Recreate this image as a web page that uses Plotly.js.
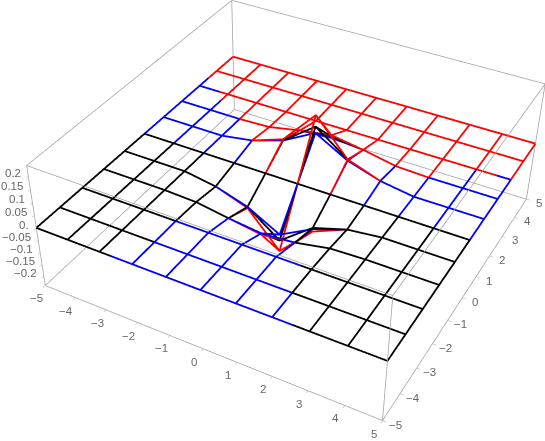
<!DOCTYPE html>
<html><head><meta charset="utf-8">
<script src="https://cdn.plot.ly/plotly-3.0.1.min.js"></script>
<style>html,body{margin:0;padding:0;background:#fff;overflow:hidden;width:545px;height:441px}
#myDiv{position:absolute;left:-340px;top:-275px;width:1226px;height:992px}</style>
</head><body><div id="myDiv"></div>
<script>
const gridVals = [-5,-4,-3,-2,-1,0,1,2,3,4,5];
const axisTickText = ['\u22125','\u22124','\u22123','\u22122','\u22121','0','1','2','3','4','5'];
const zTickVals = [-0.2,-0.15,-0.1,-0.05,0,0.05,0.1,0.15,0.2];
const zTickText = ['\u22120.2','\u22120.15','\u22120.1','\u22120.05','0.','0.05','0.1','0.15','0.2'];

// z per node, rows y=-5..5, columns x=-5..5
const zBlack = [
 [0,0,0,0,0,0,0,0,0,0,0],[0,0,0,0,0,0,0,0,0,0,0],[0,0,0,0,0,0,0,0,0,0,0],
 [0,0,0,-0.005,-0.025,-0.04,-0.03,-0.005,0,0,0],
 [0,0,0,-0.02,-0.06,-0.155,-0.055,-0.015,0,0,0],
 [0,0,0,0,0,0,0,0,0,0,0],
 [0,0,0,0.02,0.06,0.155,0.065,0.02,0,0,0],
 [0,0,0,0.005,0.03,0.045,0.03,0.005,0,0,0],
 [0,0,0,0,0,0,0,0,0,0,0],[0,0,0,0,0,0,0,0,0,0,0],[0,0,0,0,0,0,0,0,0,0,0]];
const zBlue = [
 [0,0,0,0,0,0,0,0,0,0,0],[0,0,0,0,0,0,0,0,0,0,0],[0,0,0,0,0,0,0,0,0,0,0],
 [0,0,0,-0.005,-0.025,-0.04,-0.03,-0.005,0,0,0],
 [0,0,0,-0.02,-0.06,-0.13,-0.06,-0.015,0,0,0],
 [0,0,0,0,0,0,0,0,0,0,0],
 [0,0,0,0.02,0.06,0.13,0.06,0.02,0,0,0],
 [0,0,0,0.005,0.03,0.04,0.03,0.005,0,0,0],
 [0,0,0,0,0,0,0,0,0,0,0],[0,0,0,0,0,0,0,0,0,0,0],[0,0,0,0,0,0,0,0,0,0,0]];
const zRed = [
 [0,0,0,0,0,0,0,0,0,0,0],[0,0,0,0,0,0,0,0,0,0,0],[0,0,0,0,0,0,0,0,0,0,0],
 [0,0,0,-0.005,-0.025,-0.045,-0.03,-0.005,0,0,0],
 [0,0,0,-0.02,-0.065,-0.2,-0.07,-0.015,0,0,0],
 [0,0,0,0,0,0,0,0,0,0,0],
 [0,0,0,0.02,0.065,0.2,0.065,0.02,0,0,0],
 [0,0,0,0.005,0.03,0.05,0.03,0.005,0,0,0],
 [0,0,0,0,0,0,0,0,0,0,0],[0,0,0,0,0,0,0,0,0,0,0],[0,0,0,0,0,0,0,0,0,0,0]];

// which stretch of each grid line shows in which colour: [fixed coordinate, from, to]
const blackRows = [[0,-5,5],[-1,-5,5],[1,-2,2],[2,-1,1],[-2,-5,-1],[-2,1,5],[-3,-5,-2],[-3,1.7,5],[-4,-5,-2],[-4,2,5],[-5,-5,-2.65],[-5,2.55,5]];
const blueRows = [[3,-5,-4.3],[3,4.6,5],[2,-5,-3],[2,-1,1],[2,3,5],[1,-5,5],[-1,-2,2],[-2,-1,1],[-3,-2,1.7],[-4,-2,2],[-5,-2.65,2.55]];
const redRows = [[5,-5,5],[4,-5,5],[3,-4.3,4.6],[2,-3,3],[1,-2,2],[-1,-2,2],[-2,-1,1]];
const blackCols = [[-5,-5,0],[-4,-5,0],[-3,-5,0],[-2,-3,0],[-1,-2,1],[0,-2,2],[1,-2,1],[2,-4,0],[3,-5,0],[4,-5,0],[5,-5,0]];
const blueCols = [[-5,0,3.5],[-4,0,2.6],[-3,0,2],[-2,-5,-3],[-2,0,1],[-1,-5,-2],[-1,1,2],[0,-5,2],[1,-5,-1],[1,0,2],[2,-5,-4],[2,0,2],[3,0,2],[4,0,3],[5,0,3]];
const redCols = [[-5,3.5,5],[-4,2.6,5],[-3,2,5],[-2,1,5],[-1,-2,-1],[-1,0,5],[0,-2,5],[1,-2,-1],[1,0,5],[2,2,5],[3,2,5],[4,3,5],[5,3,5]];

const zMax = 0.24;

const zAt = (table, x, y) => {
    const i = Math.min(Math.floor(x + 5), 9), j = Math.min(Math.floor(y + 5), 9);
    const s = x + 5 - i, t = y + 5 - j;
    return (1-s)*(1-t)*table[j][i] + s*(1-t)*table[j][i+1] + (1-s)*t*table[j+1][i] + s*t*table[j+1][i+1];
};

const gridTrace = (table, rows, cols, color) => {
    const x = [], y = [], z = [];
    const add = (px, py) => { x.push(px); y.push(py); z.push(zAt(table, px, py)); };
    const stops = (a, b) => [a, ...gridVals.filter(v => v > a && v < b), b];
    rows.forEach(([fy, a, b]) => { stops(a, b).forEach(v => add(v, fy)); x.push(null); y.push(null); z.push(null); });
    cols.forEach(([fx, a, b]) => { stops(a, b).forEach(v => add(fx, v)); x.push(null); y.push(null); z.push(null); });
    return {type: 'scatter3d', mode: 'lines', x, y, z, line: {color, width: 3.6}, hoverinfo: 'skip'};
};

const boxTrace = () => {
    const x = [], y = [], z = [];
    const seg = (a, b) => { x.push(a[0], b[0], null); y.push(a[1], b[1], null); z.push(a[2], b[2], null); };
    [-1, 1].forEach(p => [-1, 1].forEach(q => {
        seg([-5, p*5, q*zMax], [5, p*5, q*zMax]);
        seg([p*5, -5, q*zMax], [p*5, 5, q*zMax]);
        seg([p*5, q*5, -zMax], [p*5, q*5, zMax]);
    }));
    return {type: 'scatter3d', mode: 'lines', x, y, z, line: {color: '#a0a0a0', width: 1.5}, hoverinfo: 'skip'};
};

// tick labels sit off the box edges, as scene annotations so they can be nudged per axis
const tickFont = {family: 'Liberation Sans', size: 11.5, color: '#666666'};
const tickNote = (x, y, z, text, xanchor, xshift, yshift) => ({
    x, y, z, text, xanchor, yanchor: 'middle', xshift, yshift, showarrow: false, font: tickFont
});
const annotations = [
    ...gridVals.map((v, i) => tickNote(v, -5, -zMax, axisTickText[i], 'center', -9, -13)),
    ...gridVals.map((v, i) => tickNote(5, v, -zMax, axisTickText[i], 'center', 13, -4)),
    ...zTickVals.map((v, i) => tickNote(-5, -5, v, zTickText[i], 'right', -5, 3))
];

const axisStyle = {
    showbackground: false, showgrid: false, zeroline: false, showspikes: false,
    showline: false, ticks: 'outside', ticklen: 3, tickcolor: '#aaaaaa', tickwidth: 1,
    showticklabels: false, title: {text: ''}
};

const data = [boxTrace(),
              gridTrace(zBlack, blackRows, blackCols, '#000000'),
              gridTrace(zBlue, blueRows, blueCols, '#0000ff'),
              gridTrace(zRed, redRows, redCols, '#ff0000')];
const layout = {
    margin: {l: 0, r: 0, t: 0, b: 0}, showlegend: false, paper_bgcolor: '#fff',
    scene: {
        domain: {x: [0, 1], y: [0, 1]},
        aspectmode: 'manual', aspectratio: {x: 1, y: 1, z: 0.396},
        camera: {eye: {x: 1.221, y: -2.327, z: 1.926}, center: {x: -0.048, y: -0.051, z: -0.112}, up: {x: 0, y: 0, z: 1}},
        annotations,
        xaxis: {...axisStyle, range: [-5, 5], tickvals: gridVals, ticktext: axisTickText},
        yaxis: {...axisStyle, range: [-5, 5], tickvals: gridVals, ticktext: axisTickText},
        zaxis: {...axisStyle, range: [-zMax, zMax], tickvals: zTickVals, ticktext: zTickText}
    }
};
Plotly.newPlot('myDiv', data, layout, {displayModeBar: false});
</script></body></html>
